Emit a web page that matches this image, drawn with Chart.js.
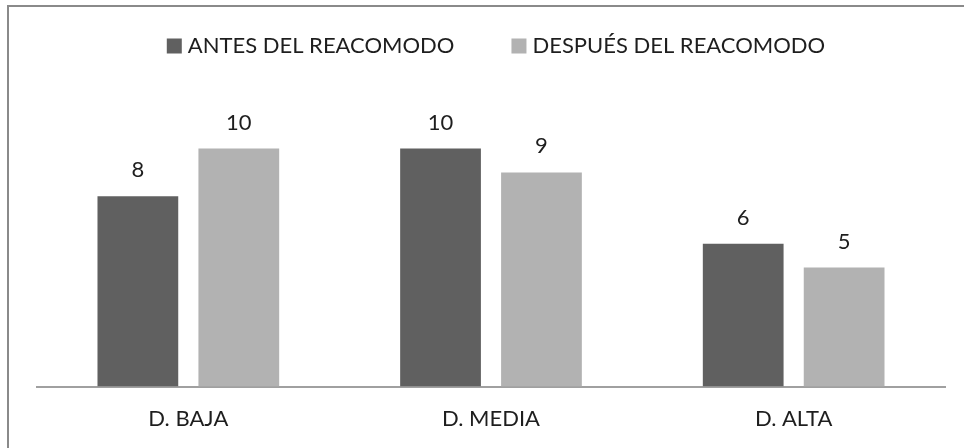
<!DOCTYPE html>
<html>
<head>
<meta charset="utf-8">
<script src="https://cdn.jsdelivr.net/npm/chart.js@4/dist/chart.umd.min.js"></script>
<style>
  html, body { margin: 0; padding: 0; background: #fff; }
  #wrap { position: relative; width: 964px; height: 448px; overflow: hidden; }
  #frame { position: absolute; left: 7px; top: 5px; width: 1000px; height: 500px;
           border-left: 2px solid #8a8a8a; border-top: 2px solid #8a8a8a; }
  canvas { position: absolute; left: 0; top: 0; }
</style>
</head>
<body>
<div id="wrap">
  <div id="frame"></div>
  <canvas id="chart" width="964" height="448"></canvas>
</div>
<script>
const categories = ['D. BAJA', 'D. MEDIA', 'D. ALTA'];
const antes = [8, 10, 6];
const despues = [10, 9, 5];
const seriesNames = ['ANTES DEL REACOMODO', 'DESPUÉS DEL REACOMODO'];
const seriesColors = ['#606060', '#b2b2b2'];

const font = { family: 'Lato, "Open Sans", sans-serif', size: 22 };
const textColor = '#1e1e1e';

// writes each bar's value just above it
const valueLabels = {
  id: 'valueLabels',
  afterDatasetsDraw(chart) {
    const ctx = chart.ctx;
    ctx.save();
    ctx.font = font.size + 'px ' + font.family;
    ctx.fillStyle = textColor;
    ctx.textAlign = 'center';
    ctx.textBaseline = 'alphabetic';
    chart.data.datasets.forEach((ds, i) => {
      chart.getDatasetMeta(i).data.forEach((bar, j) => {
        ctx.fillText(String(ds.data[j]), bar.x, bar.y - 19);
      });
    });
    ctx.restore();
  }
};

// compact legend row: small square tight against its label
const topLegend = {
  id: 'topLegend',
  afterDraw(chart) {
    const ctx = chart.ctx;
    const box = 15, gap = 6, itemGap = 57, centerX = 496, midY = 46;
    ctx.save();
    ctx.font = font.size + 'px ' + font.family;
    ctx.textBaseline = 'middle';
    ctx.textAlign = 'left';
    const items = chart.data.datasets.map(ds => ({
      text: ds.label, color: ds.backgroundColor, w: ctx.measureText(ds.label).width
    }));
    const total = items.reduce((s, it) => s + box + gap + it.w, 0) + itemGap * (items.length - 1);
    let x = centerX - total / 2;
    items.forEach(it => {
      ctx.fillStyle = it.color;
      ctx.fillRect(x, midY - box / 2, box, box);
      ctx.fillStyle = textColor;
      ctx.fillText(it.text, x + box + gap, midY);
      x += box + gap + it.w + itemGap;
    });
    ctx.restore();
  }
};

new Chart(document.getElementById('chart').getContext('2d'), {
  type: 'bar',
  data: {
    labels: categories,
    datasets: [
      { label: seriesNames[0], data: antes, backgroundColor: seriesColors[0] },
      { label: seriesNames[1], data: despues, backgroundColor: seriesColors[1] },
    ],
  },
  options: {
    responsive: false,
    animation: false,
    categoryPercentage: 0.667,
    barPercentage: 0.8,
    layout: { padding: { left: 37, right: 19, top: 101, bottom: 5 } },
    plugins: {
      tooltip: { enabled: false },
      legend: { display: false },
    },
    scales: {
      x: {
        grid: { display: false },
        border: { display: true, color: '#a0a0a0', width: 2 },
        ticks: { font: font, color: textColor, padding: 11 },
      },
      y: {
        display: false,
        min: 0,
        max: 12,
      },
    },
  },
  plugins: [valueLabels, topLegend],
});
</script>
</body>
</html>
